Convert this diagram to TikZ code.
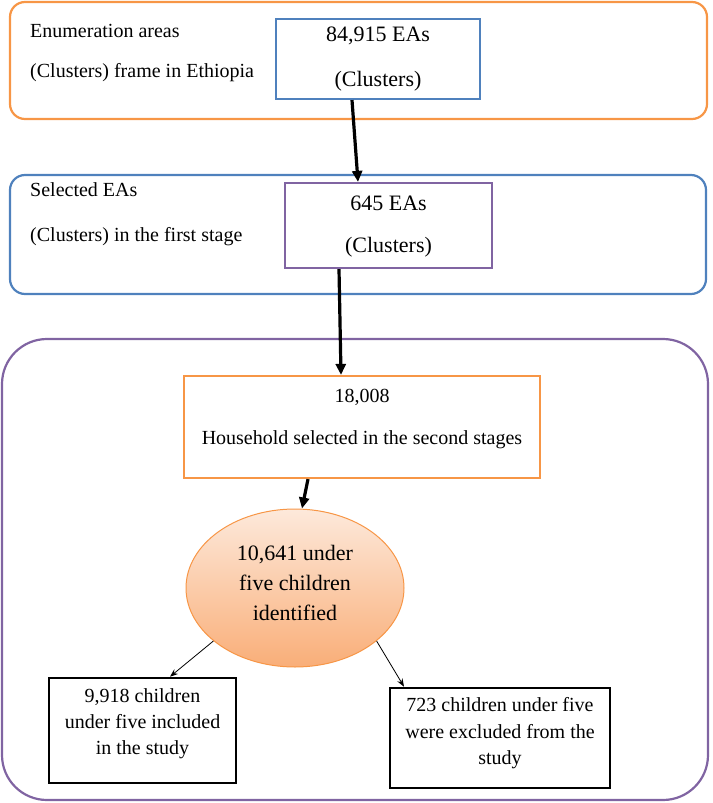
\documentclass[tikz,border=0pt]{standalone}
\usepackage{fontspec}
\setmainfont{Liberation Serif}
\usetikzlibrary{shapes.geometric,arrows.meta}
\definecolor{ora}{HTML}{F79646}
\definecolor{blu}{HTML}{4F81BD}
\definecolor{pur}{HTML}{8064A2}
\definecolor{elltop}{HTML}{FDE9DB}
\definecolor{ellbot}{HTML}{F9AE78}
\tikzset{
  outerbox/.style={rectangle, line width=2.2pt, minimum width=#1, inner sep=0pt},
  innerbox/.style={rectangle, line width=2.2pt, inner sep=0pt, fill=white},
  blackbox/.style={rectangle, draw=black, line width=2.6pt, inner sep=0pt, fill=white},
  lbl/.style={align=left, anchor=west, inner sep=0pt},
  ctxt/.style={align=center, inner sep=0pt},
  bigarrow/.style={line width=3.2pt, -{Triangle[length=11pt,width=10pt]}},
  thinarrow/.style={line width=0.8pt, -{Stealth[length=8pt,width=6pt]}}
}
\begin{document}
\begin{tikzpicture}[x=1pt,y=-1pt]
\useasboundingbox (0,0) rectangle (712,803);
% outer frames
\node[outerbox=697pt, draw=ora, rounded corners=15pt, minimum height=117pt] (o1) at (358.5,60.5) {};
\node[outerbox=696pt, draw=blu, rounded corners=15pt, minimum height=119pt] (o2) at (358,234.5) {};
\node[outerbox=706pt, draw=pur, rounded corners=45pt, minimum height=461pt] (o3) at (355,569.5) {};
% left labels
\node[lbl, font=\fontsize{20}{40}\selectfont] (l1) at (30,53) {Enumeration areas\\(Clusters) frame in Ethiopia};
\node[lbl, font=\fontsize{20}{45}\selectfont] (l2) at (30,214.5) {Selected EAs\\(Clusters) in the first stage};
% inner boxes
\node[innerbox, draw=blu, minimum width=204pt, minimum height=80pt] (b1) at (378,59) {};
\node[ctxt, font=\fontsize{22}{45}\selectfont] (t1) at (378,59.5) {84,915 EAs\\(Clusters)};
\node[innerbox, draw=pur, minimum width=207pt, minimum height=85pt] (b2) at (388.5,225.5) {};
\node[ctxt, font=\fontsize{22}{42}\selectfont] (t2) at (388.5,227) {645 EAs\\(Clusters)};
\node[innerbox, draw=ora, minimum width=356pt, minimum height=102pt] (b3) at (362,427) {};
\node[ctxt, font=\fontsize{20}{42}\selectfont] (t3) at (362,419) {18,008\\Household selected in the second stages};
% ellipse
\node[ellipse, draw=ora, line width=1pt, top color=elltop, bottom color=ellbot, minimum width=218pt, minimum height=158pt, inner sep=0pt] (ell) at (295,588) {};
\node[ctxt, font=\fontsize{22}{30}\selectfont] (te) at (295,583) {10,641 under\\five children\\identified};
% bottom boxes
\node[blackbox, minimum width=187pt, minimum height=105pt] (bl) at (142.5,730.5) {};
\node[ctxt, font=\fontsize{20}{26}\selectfont] (tl) at (142.5,724) {9,918 children\\under five included\\in the study};
\node[blackbox, minimum width=220pt, minimum height=100pt] (br) at (500,738) {};
\node[ctxt, font=\fontsize{20}{26.5}\selectfont] (tr) at (500,733.5) {723 children under five\\were excluded from the\\study};
% arrows
\draw[bigarrow] ([xshift=-26pt]b1.south) -- ([xshift=-30.5pt]b2.north);
\draw[bigarrow] ([xshift=-49.5pt]b2.south) -- ([xshift=-21pt]b3.north);
\draw[bigarrow] ([xshift=-54pt]b3.south) -- ([xshift=7pt]ell.north);
\draw[thinarrow] (ell.213) -- ([xshift=27.5pt]bl.north);
\draw[thinarrow] (ell.327) -- ([xshift=-96pt]br.north);
\end{tikzpicture}
\end{document}
